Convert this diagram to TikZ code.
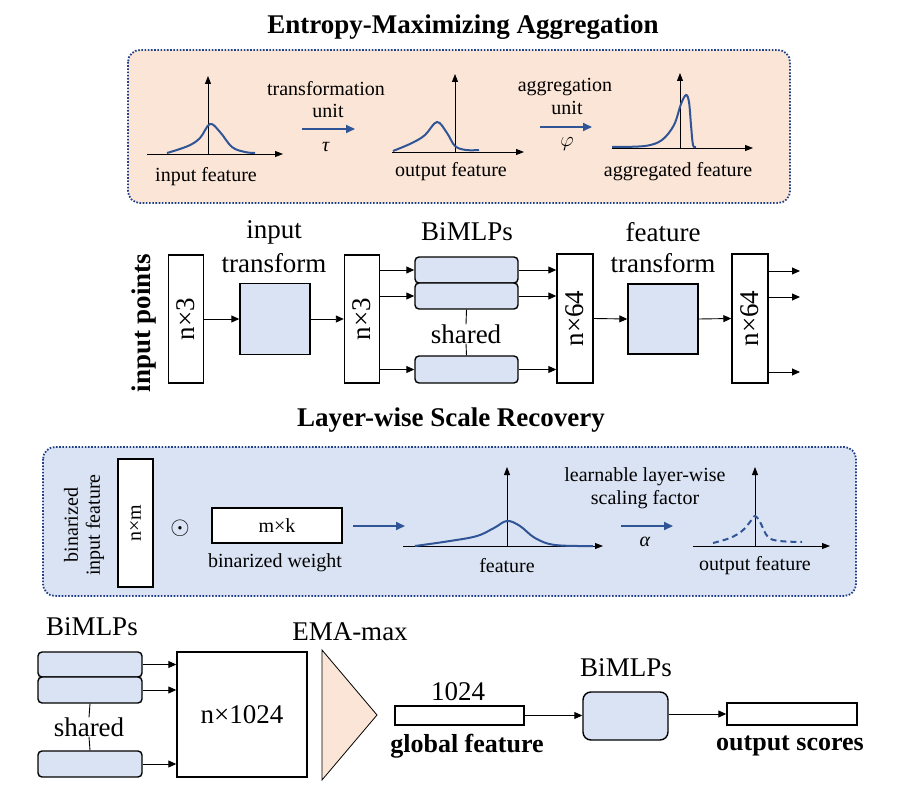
\documentclass[tikz,border=0pt]{standalone}
\usepackage{fontspec}
\setmainfont{Liberation Serif}
\usetikzlibrary{arrows.meta}
\definecolor{peach}{HTML}{FBE5D6}
\definecolor{lblue}{HTML}{DAE3F3}
\definecolor{dblue}{HTML}{2F5597}
\definecolor{dotblue}{HTML}{203F8A}
\newcommand\fsz[1]{\fontsize{#1}{#1}\selectfont}
\tikzset{
  plainbox/.style={draw, line width=1.4pt, fill=white, inner sep=0pt},
  mlpbox/.style={draw, line width=1.4pt, fill=lblue, rounded corners=4pt, inner sep=0pt},
  sqbox/.style={draw, line width=1.4pt, fill=lblue, inner sep=0pt},
  arr/.style={-{Triangle[length=8pt,width=7pt]}, line width=0.9pt},
  barr/.style={dblue, line width=2pt, -{Triangle[length=9pt,width=8pt]}},
  axis/.style={-{Triangle[length=8pt,width=6pt]}, line width=0.9pt},
  curve/.style={dblue, line width=2pt},
  panel/.style={draw=dotblue, line width=1.8pt, dash pattern=on 1.6pt off 1.6pt, rounded corners=12pt},
  lbl/.style={inner sep=0pt, font=\fsz{20}},
  big/.style={inner sep=0pt, font=\fsz{27}},
  bigb/.style={inner sep=0pt, font=\fsz{27}\bfseries},
}
\begin{document}
\begin{tikzpicture}[x=1pt,y=-1pt]
\useasboundingbox (0,0) rectangle (900,797);

% ---------------- Entropy-Maximizing Aggregation ----------------
\node[bigb] (t1) at (463,27) {Entropy-Maximizing Aggregation};
\draw[panel, fill=peach] (128,50) rectangle (790,203);

% plot 1
\coordinate (p1o) at (147,154); \coordinate (p1x) at (283,154);
\coordinate (p1b) at (208,154); \coordinate (p1t) at (208,76);
\draw[axis] (p1o) -- (p1x);
\draw[axis] (p1b) -- (p1t);
\draw[curve] plot[smooth, tension=0.6] coordinates {(167,153) (188,146) (200,138) (210,124) (220,132) (232,147) (245,152) (255,153)};
\node[lbl] (l1) at (206,177) {input feature};

\coordinate (a1s) at (302,129); \coordinate (a1e) at (355,129);
\draw[barr] (a1s) -- (a1e);
\node[lbl] (tu1) at (326,89) {transformation};
\node[lbl] (tu2) at (328,111) {unit};
\node[lbl] (tau) at (326,147) {\textit{τ}};

% plot 2
\coordinate (p2o) at (392,152); \coordinate (p2x) at (524,152);
\coordinate (p2b) at (455,152); \coordinate (p2t) at (455,74);
\draw[axis] (p2o) -- (p2x);
\draw[axis] (p2b) -- (p2t);
\draw[curve] plot[smooth, tension=0.6] coordinates {(393,151) (412,143) (425,135) (437,122) (447,133) (455,146) (466,150) (479,150)};
\node[lbl] (l2) at (451,172) {output feature};

\coordinate (a2s) at (540,127); \coordinate (a2e) at (592,127);
\draw[barr] (a2s) -- (a2e);
\node[lbl] (au1) at (565,87) {aggregation};
\node[lbl] (au2) at (567,108) {unit};
\node[lbl] (phi) at (567,144) {$\varphi$};

% plot 3
\coordinate (p3o) at (612,148); \coordinate (p3x) at (753,148);
\coordinate (p3b) at (680,148); \coordinate (p3t) at (680,73);
\draw[axis] (p3o) -- (p3x);
\draw[axis] (p3b) -- (p3t);
\draw[curve] plot[smooth, tension=0.55] coordinates {(612,147) (645,146) (662,140) (674,125) (681,104) (686,95) (689,102) (691,125) (693,145) (696,147)};
\node[lbl] (l3) at (678,172) {aggregated feature};

% ---------------- PointNet middle row ----------------
\node[bigb, rotate=90] (ip) at (144,323) {input points};

\node[plainbox, minimum width=35pt, minimum height=128pt] (n3a) at (186,319) {};
\node[big, rotate=90] at (n3a) {n×3};
\node[sqbox, minimum width=70pt, minimum height=71pt] (tf1) at (275,319) {};
\node[big] (tf1a) at (274,232) {input};
\node[big] (tf1b) at (274,263) {transform};
\node[plainbox, minimum width=35pt, minimum height=128pt] (n3b) at (362,319) {};
\node[big, rotate=90] at (n3b) {n×3};

\node[mlpbox, minimum width=103pt, minimum height=26pt] (m1) at (466.5,270) {};
\node[mlpbox, minimum width=103pt, minimum height=26pt] (m2) at (466.5,296) {};
\node[mlpbox, minimum width=103pt, minimum height=27pt] (m3) at (466.5,369.5) {};
\node[big] (bm1) at (467,232) {BiMLPs};
\node[big] (sh1) at (466,334) {shared};
\draw[line width=0.9pt] (m2.south) -- (sh1.north);
\draw[line width=0.9pt] (sh1.south) -- (m3.north);

\node[plainbox, minimum width=36pt, minimum height=129pt] (n64a) at (575,318.5) {};
\node[big, rotate=90] at (n64a) {n×64};
\node[sqbox, minimum width=70pt, minimum height=70pt] (tf2) at (663,319) {};
\node[big] (tf2a) at (663,232) {feature};
\node[big] (tf2b) at (663,263) {transform};
\node[plainbox, minimum width=36pt, minimum height=129pt] (n64b) at (750,318.5) {};
\node[big, rotate=90] at (n64b) {n×64};

\coordinate (o1) at (800,271);
\coordinate (o2) at (800,297);
\coordinate (o3) at (800,372);

\draw[arr] (n3a.east) -- (tf1.west);
\draw[arr] (tf1.east) -- (n3b.west);
\draw[arr] (n3b.east |- m1.west) -- (m1.west);
\draw[arr] (n3b.east |- m2.west) -- (m2.west);
\draw[arr] (n3b.east |- m3.west) -- (m3.west);
\draw[arr] (m1.east) -- (m1.east -| n64a.west);
\draw[arr] (m2.east) -- (m2.east -| n64a.west);
\draw[arr] (m3.east) -- (m3.east -| n64a.west);
\draw[arr] (n64a.east) -- (tf2.west);
\draw[arr] (tf2.east) -- (n64b.west);
\draw[arr] (n64b.east |- o1) -- (o1);
\draw[arr] (n64b.east |- o2) -- (o2);
\draw[arr] (n64b.east |- o3) -- (o3);

% ---------------- Layer-wise Scale Recovery ----------------
\node[bigb] (t2) at (451,420) {Layer-wise Scale Recovery};
\draw[panel, fill=lblue] (43,447) rectangle (856,596);

\node[lbl, rotate=90] (bif1) at (71,525) {binarized};
\node[lbl, rotate=90] (bif2) at (95,525) {input feature};
\node[plainbox, minimum width=35pt, minimum height=128pt] (nm) at (135.5,523) {};
\node[lbl, rotate=90] at (nm) {n×m};
\node[inner sep=0pt] (odot) at (180,528) {\fsz{26}$\odot$};
\node[plainbox, minimum width=130pt, minimum height=35pt] (mk) at (277,525.5) {};
\node[lbl] at (mk) {m×k};
\node[lbl] (bw) at (275,563) {binarized weight};
\coordinate (a3s) at (353,526); \coordinate (a3e) at (405,526);
\draw[barr] (a3s) -- (a3e);

\coordinate (p4o) at (403,546); \coordinate (p4x) at (603,546);
\coordinate (p4b) at (507,546); \coordinate (p4t) at (507,467);
\draw[axis] (p4o) -- (p4x);
\draw[axis] (p4b) -- (p4t);
\draw[curve] plot[smooth, tension=0.6] coordinates {(415,546) (450,541) (477,536) (494,528) (507,521) (520,526) (535,538) (555,545) (593,546)};
\node[lbl] (l4) at (507,566) {feature};

\coordinate (a4s) at (621,526); \coordinate (a4e) at (673,526);
\draw[barr] (a4s) -- (a4e);
\node[lbl] (lf1) at (645,477) {learnable layer-wise};
\node[lbl] (lf2) at (645,500) {scaling factor};
\node[lbl] (alpha) at (645,542) {\textit{α}};

\coordinate (p5o) at (693,546); \coordinate (p5x) at (830,546);
\coordinate (p5b) at (755,546); \coordinate (p5t) at (755,467);
\draw[axis] (p5o) -- (p5x);
\draw[axis] (p5b) -- (p5t);
\draw[curve, dash pattern=on 6pt off 4pt] plot[smooth, tension=0.6] coordinates {(713,543) (730,538) (742,531) (750,522) (755,516) (760,522) (768,537) (780,541) (802,542)};
\node[lbl] (l5) at (755,566) {output feature};

% ---------------- bottom row ----------------
\node[big] (bm2) at (92,627) {BiMLPs};
\node[mlpbox, minimum width=104pt, minimum height=25pt] (b1) at (90,664.5) {};
\node[mlpbox, minimum width=104pt, minimum height=26pt] (b2) at (90,690) {};
\node[mlpbox, minimum width=104pt, minimum height=26pt] (b3) at (90,764) {};
\node[big] (sh2) at (89,727) {shared};
\draw[line width=0.9pt] (b2.south) -- (sh2.north);
\draw[line width=0.9pt] (sh2.south) -- (b3.north);

\node[plainbox, minimum width=130pt, minimum height=125pt] (nk) at (242,714.5) {};
\node[big] at (nk) {n×1024};
\draw[arr] (b1.east) -- (b1.east -| nk.west);
\draw[arr] (b2.east) -- (b2.east -| nk.west);
\draw[arr] (b3.east) -- (b3.east -| nk.west);

\coordinate (tr1) at (322,650); \coordinate (tr2) at (377,715); \coordinate (tr3) at (322,780);
\draw[fill=peach, line width=0.8pt] (tr1) -- (tr2) -- (tr3) -- cycle;
\node[big] (ema) at (350,632) {EMA-max};

\node[plainbox, minimum width=129pt, minimum height=19pt] (gf) at (459.5,715.5) {};
\node[big] (k1024) at (458,692) {1024};
\node[inner sep=0pt, font=\fsz{26}\bfseries] (gfl) at (467,746) {global feature};

\node[mlpbox, rounded corners=8pt, minimum width=85pt, minimum height=48pt] (bm) at (625.5,716) {};
\node[big] (bm3) at (626,668) {BiMLPs};

\node[plainbox, minimum width=130pt, minimum height=22pt] (os) at (792,714) {};
\node[inner sep=0pt, font=\fsz{26}\bfseries] (osl) at (790,746) {output scores};

\draw[arr] (gf.east) -- (gf.east -| bm.west);
\draw[arr] (bm.east |- os.west) -- (os.west);
\end{tikzpicture}
\end{document}
